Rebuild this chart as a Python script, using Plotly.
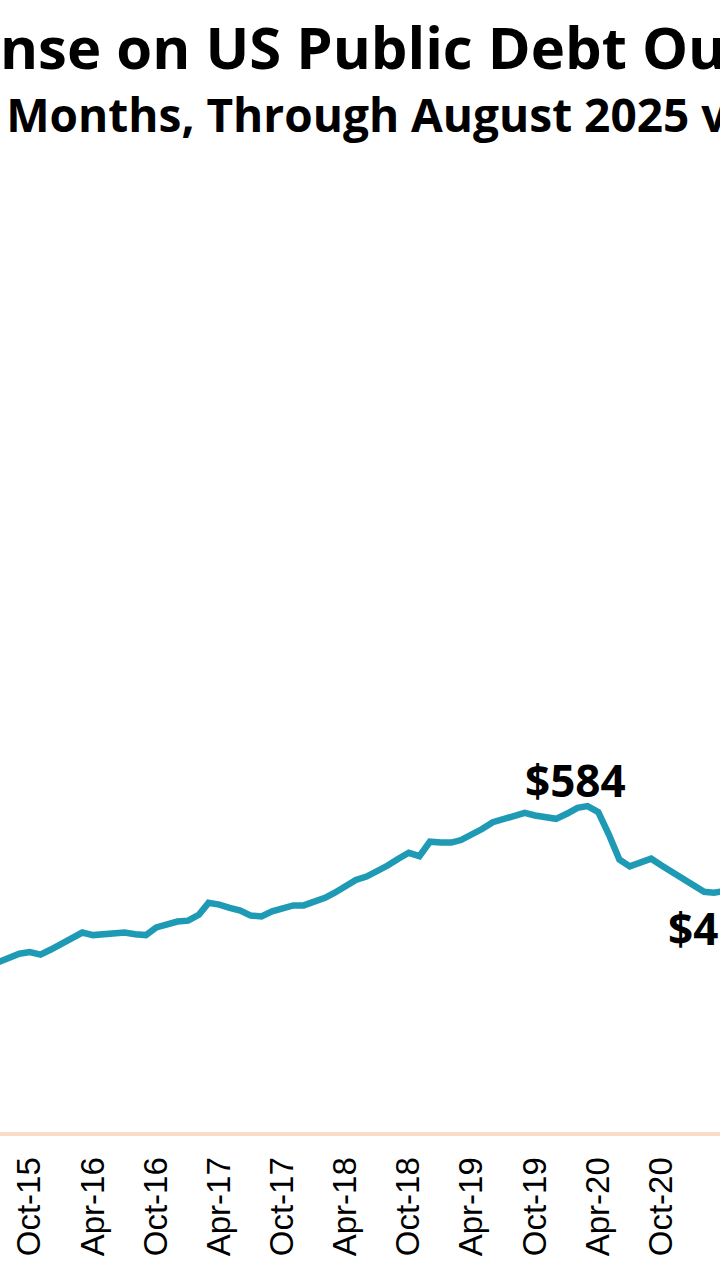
import pandas as pd
import plotly.graph_objects as go

# trailing 12m interest expense, $bn (visible part of the chart only)
months = pd.date_range("2015-07-01", "2021-04-01", freq="MS")
interest = [400, 406, 410, 412, 409, 415,
            422, 430, 435, 432, 433, 434, 435, 433, 432, 441, 444, 448,
            449, 456, 470, 468, 464, 461, 455, 454, 460, 464, 467, 467,
            471, 476, 482, 489, 497, 501, 507, 514, 522, 529, 525, 542,
            541, 541, 544, 550, 557, 565, 568, 572, 576, 573, 571, 569,
            575, 582, 584, 577, 551, 521, 513, 517, 522, 514, 506, 497,
            489, 483, 482, 484]

title_part = "nse on US Public Debt Out"
subtitle_part = "2 Months, Through August 2025 via"
low_label_part = "$4"

peak_i = interest.index(max(interest))

fig = go.Figure()
fig.add_trace(go.Scatter(x=months, y=interest, mode="lines",
                         line=dict(color="#1f9ab4", width=6.5),
                         hoverinfo="x+y", showlegend=False))

# peak label
fig.add_annotation(x=months[peak_i], y=interest[peak_i], text="$%d" % interest[peak_i],
                   showarrow=False, xanchor="center", yanchor="bottom",
                   xshift=-12, yshift=-6,
                   font=dict(family="Open Sans", size=44, color="black", weight=700))
# trough label, right edge
fig.add_annotation(x=1, y=(1132 - 928) / 976, xref="paper", yref="paper",
                   text=low_label_part, showarrow=False, xanchor="right", yanchor="middle",
                   xshift=0,
                   font=dict(family="Open Sans", size=44, color="black", weight=700))

# title and subtitle (cropped chart, as in the source)
fig.add_annotation(x=0, y=(1132 - 47) / 976, xref="paper", yref="paper",
                   text=title_part, showarrow=False, xanchor="left", yanchor="middle",
                   xshift=-2,
                   font=dict(family="Open Sans", size=58, color="black", weight=700))
fig.add_annotation(x=0, y=(1132 - 114) / 976, xref="paper", yref="paper",
                   text=subtitle_part, showarrow=False, xanchor="left", yanchor="middle",
                   xshift=-34,
                   font=dict(family="Open Sans", size=46, color="black", weight=700))

fig.update_xaxes(range=["2015-07-07", "2021-03-19"],
                 tick0="2015-10-01", dtick="M6", tickformat="%b-%y",
                 tickangle=-90, ticks="", ticklabelstandoff=8,
                 tickfont=dict(family="Liberation Sans, Arial", size=33, color="black"),
                 showline=True, linecolor="#f8dcc8", linewidth=4,
                 showgrid=False, zeroline=False)
fig.update_yaxes(range=[200, 1350], showticklabels=False, showgrid=False,
                 zeroline=False, showline=False)

fig.update_layout(width=720, height=1280,
                  margin=dict(l=0, r=0, t=156, b=148),
                  paper_bgcolor="white", plot_bgcolor="white")

fig.write_html("out.html", config={"displayModeBar": False},
               post_script="document.body.style.margin='0';")
